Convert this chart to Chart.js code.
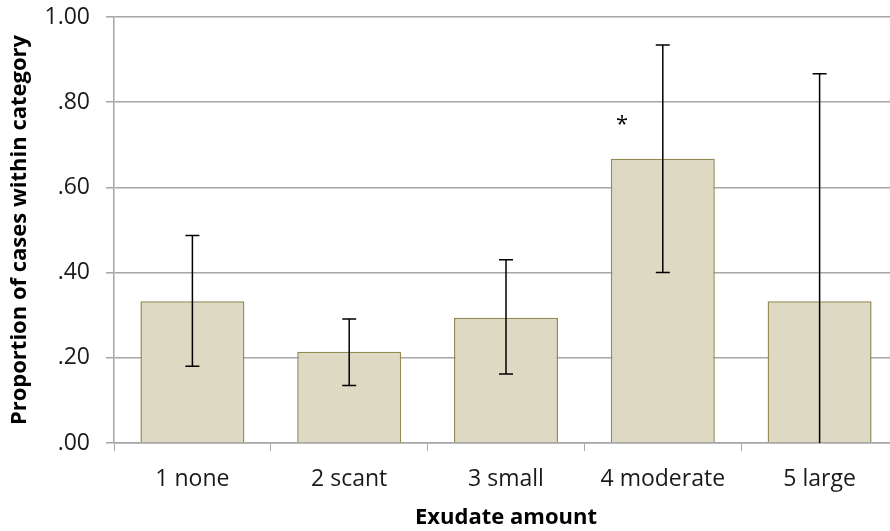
<!DOCTYPE html>
<html>
<head>
<meta charset="utf-8">
<script src="https://cdn.jsdelivr.net/npm/chart.js@4/dist/chart.umd.min.js"></script>
<style>
  html, body { margin: 0; padding: 0; background: #fff; overflow: hidden; }
  #wrap { width: 898px; height: 531px; position: relative; }
</style>
</head>
<body>
<div id="wrap"><canvas id="chart"></canvas></div>
<script>
// exudate categories and proportion of cases (with CI)
const categories = ['1 none', '2 scant', '3 small', '4 moderate', '5 large']
const proportions = [0.333, 0.214, 0.294, 0.667, 0.333]
const ciLow = [0.180, 0.135, 0.162, 0.400, 0.000]
const ciHigh = [0.487, 0.291, 0.430, 0.934, 0.867]
// significance marker
const starCategory = ['4 moderate']
const starValue = [0.758]

const grey = '#a6a6a6'
const fontFamily = '"Open Sans", "Liberation Sans", sans-serif'

const errorBars = {
    id: 'errorBars',
    afterDatasetsDraw(chart) {
        const ctx = chart.ctx
        const x = chart.scales.x
        const y = chart.scales.y
        ctx.save()
        ctx.strokeStyle = '#000'
        ctx.lineWidth = 1.5
        categories.forEach((c, i) => {
            const px = x.getPixelForValue(i)
            const top = y.getPixelForValue(ciHigh[i])
            const bot = y.getPixelForValue(ciLow[i])
            ctx.beginPath()
            ctx.moveTo(px, top)
            ctx.lineTo(px, bot)
            ctx.moveTo(px - 7, top)
            ctx.lineTo(px + 7, top)
            if (ciLow[i] > 0) {
                ctx.moveTo(px - 7, bot)
                ctx.lineTo(px + 7, bot)
            }
            ctx.stroke()
        })
        // asterisk
        ctx.fillStyle = '#000'
        ctx.font = '22px ' + fontFamily
        ctx.textAlign = 'center'
        ctx.textBaseline = 'middle'
        const catWidth = x.getPixelForValue(1) - x.getPixelForValue(0)
        starCategory.forEach((c, i) => {
            const idx = categories.indexOf(c)
            ctx.fillText('*', x.getPixelForValue(idx) - catWidth * 0.26, y.getPixelForValue(starValue[i]) + 5)
        })
        ctx.restore()
    }
}

const chart = new Chart(document.getElementById('chart'), {
    type: 'bar',
    data: {
        labels: categories,
        datasets: [{
            data: proportions,
            backgroundColor: '#ddd9c3',
            borderColor: '#938953',
            borderWidth: 1.5,
            barPercentage: 0.663,
            categoryPercentage: 1
        }]
    },
    plugins: [errorBars],
    options: {
        responsive: true,
        maintainAspectRatio: false,
        animation: false,
        layout: { padding: { top: 17, left: 0, right: 0, bottom: 0 } },
        plugins: {
            legend: { display: false },
            tooltip: { enabled: false }
        },
        scales: {
            x: {
                grid: {
                    offset: true,
                    drawOnChartArea: false,
                    drawTicks: true,
                    tickLength: 8,
                    color: grey
                },
                border: { color: grey, width: 1.5 },
                ticks: {
                    color: '#1a1a1a',
                    font: { family: fontFamily, size: 23 },
                    padding: 15,
                    maxRotation: 0
                },
                title: {
                    display: true,
                    text: 'Exudate amount',
                    color: '#000',
                    font: { family: fontFamily, size: 22, weight: 'bold' },
                    padding: { top: 0, bottom: 0 }
                },
                afterFit: (s) => {
                    s.height = 88
                    s.paddingLeft = 0
                    s.paddingRight = 0
                }
            },
            y: {
                min: 0,
                max: 1,
                grid: {
                    color: grey,
                    lineWidth: 1.5,
                    tickLength: 8
                },
                border: { color: grey, width: 1.5 },
                ticks: {
                    stepSize: 0.2,
                    color: '#1a1a1a',
                    font: { family: fontFamily, size: 23 },
                    padding: 16,
                    callback: (v) => v.toFixed(2).replace(/^0/, '')
                },
                title: {
                    display: true,
                    text: 'Proportion of cases within category',
                    color: '#000',
                    font: { family: fontFamily, size: 22, weight: 'bold' },
                    padding: { top: 7, bottom: 0 }
                },
                afterFit: (s) => {
                    s.width = 114
                    s.paddingTop = 0
                    s.paddingBottom = 0
                }
            }
        }
    }
})
</script>
</body>
</html>
